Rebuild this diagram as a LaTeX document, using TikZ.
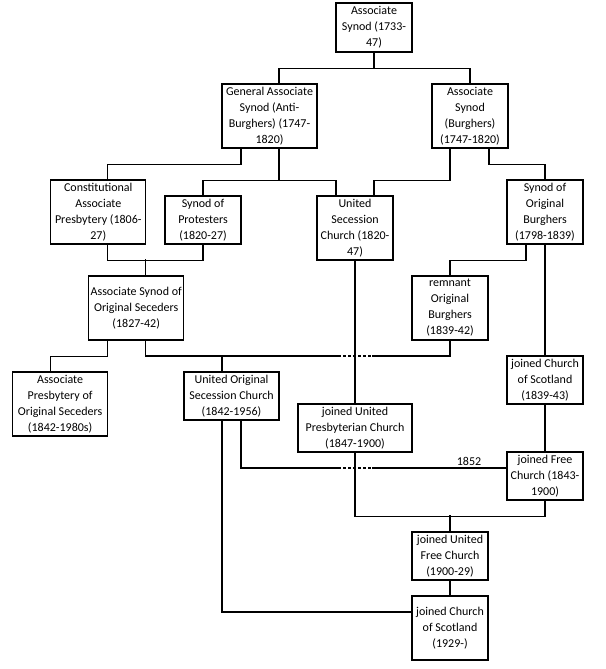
\documentclass[tikz,border=0pt]{standalone}
\usepackage{fontspec}
\setmainfont{Carlito}

\begin{document}
\begin{tikzpicture}[x=1pt,y=-1pt,line width=1.1pt,
  chbox/.style={draw,align=center,inner sep=0pt,font=\fontsize{12}{16}\selectfont},
  narrow/.style={chbox,minimum width=76pt},
  wide/.style={chbox,minimum width=95pt},
  lines3/.style={minimum height=48pt},
  lines4/.style={minimum height=64pt},
  gap/.style={dash pattern=on 3pt off 2pt}]
\fill[white] (0,0) rectangle (605,669);
\useasboundingbox (0,0) rectangle (605,669);
% boxes
\node[narrow,minimum height=49pt] (as) at (374,27.5) {Associate\\Synod (1733-\\47)};
\node[wide,lines4] (gas) at (269.5,116) {General Associate\\Synod (Anti-\\Burghers) (1747-\\1820)};
\node[narrow,lines4] (ab) at (470,116) {Associate\\Synod\\(Burghers)\\(1747-1820)};
\node[wide,lines4] (cap) at (98.3,212) {Constitutional\\Associate\\Presbytery (1806-\\27)};
\node[narrow,lines3] (sp) at (203,220) {Synod of\\Protesters\\(1820-27)};
\node[narrow,lines4] (us) at (355,228) {United\\Secession\\Church (1820-\\47)};
\node[narrow,lines4] (sob) at (545,212) {Synod of\\Original\\Burghers\\(1798-1839)};
\node[wide,lines4] (asos) at (136.2,308) {Associate Synod of\\Original Seceders\\(1827-42)};
\node[narrow,lines4] (rob) at (450,308) {remnant\\Original\\Burghers\\(1839-42)};
\node[wide,lines4] (apos) at (60.1,404) {Associate\\Presbytery of\\Original Seceders\\(1842-1980s)};
\node[wide,lines3] (uosc) at (231.5,396) {United Original\\Secession Church\\(1842-1956)};
\node[narrow,lines3] (jcs1) at (545,380) {joined Church\\of Scotland\\(1839-43)};
\node[chbox,lines3,minimum width=114pt] (jup) at (355,428) {joined United\\Presbyterian Church\\(1847-1900)};
\node[narrow,lines3] (jfc) at (545,476) {joined Free\\Church (1843-\\1900)};
\node[narrow,lines3] (jufc) at (450,556) {joined United\\Free Church\\(1900-29)};
\node[narrow,lines4] (jcs2) at (450,628) {joined Church\\of Scotland\\(1929-)};
\node[font=\fontsize{12}{16}\selectfont] (yr) at (469,461) {1852};
% bus points round the crossings
\coordinate (gapA) at (338,356);
\coordinate (gapB) at (372,356);
\coordinate (gapC) at (338,468);
\coordinate (gapD) at (372,468);
% connectors
\draw (as.south) -- ++(0,16) -| ([xshift=9.5pt]gas.north);
\draw (as.south) -- ++(0,16) -| (ab.north);
\draw ([xshift=-28.5pt]gas.south) -- ++(0,16) -| ([xshift=9.5pt]cap.north);
\draw ([xshift=9.5pt]gas.south) -- ++(0,32) -| (sp.north);
\draw ([xshift=9.5pt]gas.south) -- ++(0,32) -| ([xshift=-19pt]us.north);
\draw ([xshift=-20pt]ab.south) -- ++(0,32) -| ([xshift=19pt]us.north);
\draw ([xshift=19pt]ab.south) -- ++(0,16) -| (sob.north);
\draw ([xshift=9.5pt]cap.south) -- ++(0,16) -| (sp.south);
\draw ([xshift=9.5pt]asos.north) -- ++(0,-16);
\draw ([xshift=-19pt]sob.south) -- ++(0,16) -| (rob.north);
\draw (sob.south) -- (jcs1.north);
\draw (us.south) -- (jup.north);
\draw ([xshift=-28.5pt]asos.south) -- ++(0,16) -| ([xshift=-9.5pt]apos.north);
\draw ([xshift=9.5pt]asos.south) |- (gapA);
\draw[gap] (gapA) -- (gapB);
\draw (gapB) -| (rob.south);
\draw ([xshift=-9.5pt]uosc.north) -- ++(0,-16);
\draw (jcs1.south) -- (jfc.north);
\draw ([xshift=9.5pt]uosc.south) |- (gapC);
\draw[gap] (gapC) -- (gapD);
\draw (gapD) -- ([yshift=8pt]jfc.west);
\draw (jup.south) -- ++(0,64) -| (jfc.south);
\draw (jufc.north) -- ++(0,-16);
\draw (jufc.south) -- (jcs2.north);
\draw ([xshift=-9.5pt]uosc.south) |- ([yshift=16pt]jcs2.west);
\end{tikzpicture}
\end{document}
